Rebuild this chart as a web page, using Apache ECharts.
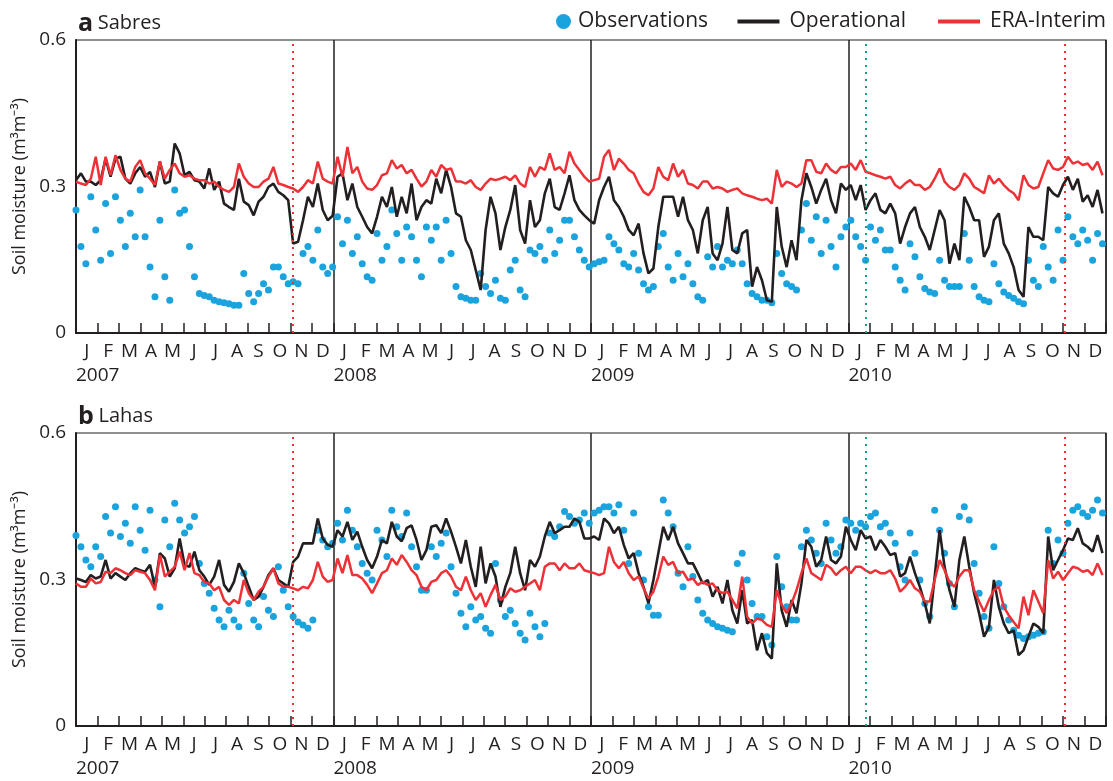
<!DOCTYPE html>
<html>
<head>
<meta charset="utf-8">
<script src="https://cdn.jsdelivr.net/npm/echarts@6/dist/echarts.min.js"></script>
<style>
html,body{margin:0;padding:0;background:#fff;}
#chart{width:1113px;height:781px;}
</style>
</head>
<body>
<div id="chart"></div>
<script>
// ---- data: weekly samples starting 1 Jan 2007 (day index = week * 7) ----
const monthLetters = ['J','F','M','A','M','J','J','A','S','O','N','D'];
const yearLabels = ['2007','2008','2009','2010'];
const yTicks = [0, 0.3, 0.6];
const dottedRed = [307, 1402];   // day index of red dotted markers
const dottedGreen = [1120];      // day index of green dotted marker

// Panel a: Sabres
const sabresObs = [
 0.252,0.177,0.142,0.279,0.211,0.149,0.265,0.163,0.279,0.231,0.177,0.245,0.197,0.293,0.197,0.135,0.074,0.231,0.115,0.067,0.293,0.245,0.252,0.177,0.115,0.081,0.077,0.074,0.067,0.064,0.062,0.06,0.057,0.057,0.122,0.081,0.064,0.081,0.101,0.088,0.135,0.135,0.115,0.101,0.105,0.101,0.163,0.177,0.149,0.211,0.135,0.122,
 0.135,0.238,0.183,0.231,0.163,0.197,0.142,0.115,0.108,0.204,0.149,0.177,0.252,0.204,0.149,0.217,0.197,0.149,0.115,
 0.217,0.19,0.217,0.149,0.231,0.163,0.095,0.074,0.071,0.067,0.067,0.122,0.095,0.081,0.108,0.071,0.067,0.129,0.149,0.088,0.074,0.17,0.163,0.177,0.149,0.211,0.163,0.19,0.231,0.231,0.197,0.17,0.149,0.135,0.142,0.146,0.149,0.197,0.183,0.17,0.142,0.135,0.163,0.129,0.101,0.088,0.095,0.177,0.204,0.135,0.108,0.163,0.115,0.142,0.101,0.074,0.067,0.156,0.135,0.177,0.135,0.149,0.142,0.17,0.142,0.101,0.081,0.074,0.067,
 0.067,0.062,0.163,0.122,0.101,0.095,0.088,0.211,0.265,0.19,0.238,0.163,0.231,0.177,0.135,0.197,0.217,0.231,0.197,0.177,0.149,0.217,0.19,0.211,0.17,0.17,0.135,0.108,0.088,0.183,0.156,0.115,0.091,0.084,0.081,0.149,0.108,0.095,0.095,0.095,0.204,0.149,0.095,0.074,0.067,0.064,0.142,0.101,0.084,0.077,0.071,0.064,0.06,0.149,0.108,0.095,0.177,0.135,0.108,0.211,0.149,0.238,0.197,0.183,0.211,0.19,0.149,0.204,0.183
];
const sabresOper = [
 0.313,0.327,0.31,0.31,0.303,0.313,0.357,0.32,0.357,0.361,0.316,0.306,0.327,0.34,0.32,0.33,0.299,0.351,0.306,0.31,0.388,0.368,0.323,0.33,0.313,0.31,0.296,0.337,0.293,0.31,0.265,0.258,0.252,0.316,0.269,0.262,0.241,0.269,0.279,0.299,0.306,0.289,0.282,0.272,0.183,0.187,0.231,0.279,0.258,0.306,0.252,0.231,
 0.24,0.32,0.327,0.272,0.306,0.258,0.238,0.217,0.204,0.238,0.279,0.258,0.299,0.238,0.279,0.245,0.306,0.231,0.258,
 0.272,0.265,0.316,0.286,0.334,0.299,0.245,0.238,0.19,0.17,0.129,0.088,0.211,0.279,0.245,0.17,0.217,0.252,0.303,0.211,0.183,0.272,0.217,0.231,0.286,0.316,0.258,0.252,0.286,0.323,0.272,0.252,0.241,0.231,0.224,0.272,0.299,0.32,0.272,0.258,0.238,0.211,0.2,0.224,0.163,0.122,0.132,0.217,0.279,0.279,0.279,0.238,0.279,0.231,0.211,0.163,0.231,0.258,0.163,0.149,0.183,0.258,0.17,0.163,0.204,0.211,0.095,0.135,0.108,
 0.067,0.064,0.258,0.177,0.135,0.19,0.149,0.272,0.327,0.299,0.265,0.293,0.316,0.272,0.245,0.306,0.293,0.303,0.272,0.303,0.252,0.272,0.286,0.252,0.245,0.265,0.245,0.183,0.217,0.245,0.258,0.217,0.197,0.17,0.211,0.252,0.231,0.142,0.183,0.149,0.279,0.258,0.231,0.231,0.156,0.177,0.231,0.245,0.183,0.163,0.135,0.088,0.074,0.217,0.197,0.197,0.19,0.299,0.286,0.279,0.303,0.32,0.293,0.316,0.269,0.282,0.258,0.293,0.245
];
const sabresEra = [
 0.31,0.306,0.303,0.316,0.361,0.303,0.361,0.323,0.364,0.334,0.316,0.31,0.34,0.354,0.327,0.316,0.303,0.351,0.316,0.334,0.347,0.327,0.32,0.323,0.316,0.313,0.313,0.306,0.31,0.299,0.293,0.289,0.299,0.347,0.32,0.306,0.299,0.299,0.31,0.316,0.34,0.306,0.303,0.299,0.296,0.289,0.299,0.313,0.306,0.351,0.316,0.31,
 0.306,0.361,0.32,0.381,0.327,0.34,0.31,0.296,0.293,0.303,0.323,0.327,0.354,0.337,0.344,0.327,0.334,0.316,0.3,
 0.31,0.334,0.32,0.344,0.334,0.337,0.31,0.31,0.306,0.313,0.299,0.293,0.306,0.316,0.313,0.316,0.32,0.313,0.323,0.306,0.299,0.34,0.32,0.34,0.334,0.368,0.334,0.34,0.327,0.371,0.347,0.334,0.32,0.31,0.313,0.316,0.361,0.375,0.334,0.357,0.347,0.334,0.327,0.306,0.289,0.282,0.296,0.34,0.32,0.313,0.347,0.32,0.334,0.306,0.303,0.296,0.31,0.31,0.296,0.299,0.296,0.289,0.293,0.296,0.286,0.282,0.279,0.275,0.272,
 0.275,0.265,0.334,0.299,0.31,0.306,0.299,0.306,0.354,0.354,0.33,0.327,0.347,0.334,0.327,0.34,0.34,0.347,0.334,0.354,0.33,0.327,0.323,0.32,0.316,0.32,0.303,0.296,0.306,0.313,0.303,0.303,0.293,0.299,0.316,0.337,0.31,0.299,0.293,0.303,0.327,0.316,0.299,0.293,0.286,0.323,0.306,0.316,0.303,0.293,0.286,0.272,0.323,0.303,0.296,0.299,0.327,0.354,0.337,0.334,0.34,0.361,0.347,0.351,0.344,0.347,0.334,0.351,0.323
];

// Panel b: Lahas
const lahasObs = [
 0.39,0.367,0.34,0.326,0.367,0.347,0.429,0.395,0.449,0.388,0.415,0.374,0.449,0.401,0.36,0.442,0.299,0.244,0.422,0.367,0.456,0.422,0.395,0.408,0.429,0.333,0.292,0.272,0.241,0.217,0.203,0.237,0.217,0.203,0.313,0.251,0.217,0.203,0.265,0.237,0.224,0.326,0.278,0.244,0.224,0.213,0.207,0.2,0.217,0.401,0.381,0.367,
 0.374,0.415,0.381,0.442,0.401,0.367,0.333,0.313,0.299,0.401,0.381,0.347,0.442,0.408,0.388,0.436,0.367,0.326,0.278,
 0.278,0.367,0.347,0.374,0.395,0.326,0.272,0.231,0.203,0.244,0.217,0.224,0.2,0.19,0.333,0.258,0.224,0.237,0.21,0.19,0.176,0.231,0.203,0.183,0.21,0.395,0.388,0.408,0.439,0.429,0.415,0.422,0.436,0.415,0.436,0.442,0.449,0.449,0.436,0.453,0.401,0.333,0.436,0.354,0.299,0.244,0.227,0.227,0.463,0.436,0.408,0.313,0.285,0.367,0.306,0.258,0.231,0.217,0.21,0.203,0.2,0.196,0.193,0.333,0.354,0.299,0.251,0.224,0.224,
 0.183,0.166,0.347,0.285,0.244,0.217,0.217,0.367,0.401,0.381,0.354,0.333,0.415,0.381,0.354,0.367,0.422,0.415,0.401,0.415,0.408,0.429,0.436,0.408,0.415,0.395,0.374,0.326,0.299,0.395,0.354,0.299,0.251,0.224,0.442,0.401,0.354,0.292,0.244,0.429,0.449,0.422,0.333,0.272,0.224,0.2,0.367,0.292,0.244,0.217,0.196,0.186,0.179,0.183,0.186,0.19,0.193,0.401,0.333,0.381,0.354,0.415,0.442,0.449,0.436,0.429,0.442,0.463,0.436
];
const lahasOper = [
 0.302,0.299,0.295,0.309,0.302,0.306,0.34,0.302,0.313,0.306,0.299,0.313,0.323,0.319,0.316,0.33,0.285,0.354,0.343,0.306,0.323,0.384,0.33,0.326,0.357,0.319,0.306,0.289,0.306,0.34,0.289,0.275,0.295,0.333,0.313,0.285,0.258,0.265,0.285,0.309,0.323,0.299,0.292,0.285,0.336,0.347,0.374,0.374,0.374,0.425,0.384,0.371,
 0.367,0.401,0.388,0.418,0.381,0.398,0.367,0.34,0.323,0.347,0.381,0.374,0.418,0.388,0.378,0.405,0.411,0.381,0.34,
 0.36,0.408,0.411,0.395,0.425,0.398,0.367,0.333,0.381,0.326,0.285,0.367,0.292,0.333,0.306,0.244,0.285,0.313,0.367,0.313,0.278,0.34,0.326,0.347,0.388,0.418,0.395,0.401,0.408,0.408,0.425,0.418,0.384,0.384,0.388,0.381,0.425,0.415,0.395,0.408,0.371,0.343,0.354,0.313,0.285,0.251,0.299,0.354,0.408,0.381,0.408,0.374,0.354,0.333,0.333,0.313,0.292,0.299,0.265,0.285,0.251,0.299,0.237,0.21,0.278,0.21,0.217,0.155,0.19,
 0.149,0.138,0.333,0.237,0.203,0.258,0.231,0.292,0.381,0.367,0.326,0.34,0.388,0.34,0.333,0.347,0.408,0.381,0.36,0.401,0.384,0.388,0.36,0.381,0.367,0.35,0.354,0.306,0.313,0.347,0.313,0.285,0.251,0.21,0.306,0.401,0.326,0.278,0.244,0.34,0.388,0.326,0.272,0.231,0.183,0.203,0.299,0.244,0.21,0.19,0.196,0.145,0.155,0.183,0.21,0.203,0.19,0.388,0.319,0.34,0.36,0.384,0.381,0.405,0.374,0.367,0.357,0.391,0.354
];
const lahasEra = [
 0.292,0.285,0.285,0.302,0.292,0.295,0.316,0.313,0.323,0.319,0.313,0.309,0.319,0.316,0.313,0.299,0.278,0.35,0.306,0.316,0.326,0.357,0.319,0.354,0.313,0.309,0.295,0.292,0.278,0.285,0.258,0.248,0.258,0.251,0.299,0.272,0.258,0.275,0.285,0.306,0.323,0.292,0.285,0.285,0.282,0.278,0.285,0.282,0.299,0.336,0.306,0.295,
 0.299,0.343,0.313,0.35,0.309,0.309,0.302,0.289,0.272,0.292,0.313,0.319,0.343,0.33,0.35,0.336,0.319,0.309,0.285,
 0.278,0.295,0.299,0.313,0.319,0.306,0.285,0.278,0.306,0.278,0.258,0.272,0.244,0.268,0.289,0.258,0.265,0.282,0.275,0.278,0.285,0.292,0.299,0.278,0.326,0.333,0.333,0.319,0.333,0.323,0.323,0.333,0.319,0.316,0.313,0.309,0.313,0.367,0.336,0.323,0.336,0.313,0.299,0.306,0.282,0.261,0.275,0.306,0.347,0.33,0.336,0.313,0.316,0.299,0.302,0.289,0.295,0.289,0.292,0.278,0.272,0.275,0.258,0.241,0.306,0.224,0.21,0.22,0.217,
 0.207,0.203,0.278,0.248,0.231,0.251,0.278,0.313,0.343,0.313,0.306,0.299,0.33,0.323,0.309,0.319,0.326,0.313,0.326,0.326,0.319,0.313,0.319,0.313,0.313,0.319,0.302,0.275,0.285,0.299,0.282,0.275,0.255,0.255,0.299,0.34,0.319,0.295,0.285,0.306,0.319,0.319,0.278,0.255,0.234,0.258,0.278,0.285,0.244,0.227,0.213,0.2,0.265,0.227,0.278,0.255,0.231,0.34,0.302,0.316,0.299,0.313,0.326,0.323,0.316,0.319,0.309,0.333,0.309
];

// ---- build chart ----
const DAYS_TOTAL = 1461;
const YEAR_LEN = 365.25;
const dayOf = i => i * 7;
const pairs = arr => arr.map((v, i) => [dayOf(i), v]);

const monthCats = [];
for (let y = 0; y < 4; y++) for (let m = 0; m < 12; m++) monthCats.push(monthLetters[m]);

const INK = '#231f20', BLUE = '#1aa3dd', RED = '#ee3136', GREEN = '#17a075';
const FONT = 'Open Sans';

const grids = [
  {left: 76, top: 40, width: 1030, height: 293},
  {left: 76, top: 433, width: 1030, height: 293}
];

const xAxes = [], yAxes = [], series = [];
const panels = [
  {obs: sabresObs, oper: sabresOper, era: sabresEra},
  {obs: lahasObs, oper: lahasOper, era: lahasEra}
];

panels.forEach((p, g) => {
  xAxes.push({gridIndex: g, type: 'value', min: 0, max: DAYS_TOTAL, show: false});
  xAxes.push({
    gridIndex: g, type: 'category', data: monthCats, boundaryGap: true, position: 'bottom',
    axisLine: {show: true, lineStyle: {color: INK, width: 2}},
    axisTick: {show: true, inside: true, length: 10, interval: 0, lineStyle: {color: INK, width: 1.5}},
    axisLabel: {interval: 0, margin: 9, color: INK, fontSize: 19, fontFamily: FONT},
    splitLine: {show: false}
  });
  xAxes.push({
    gridIndex: g, type: 'value', min: 0, max: DAYS_TOTAL, interval: YEAR_LEN, position: 'bottom',
    axisLine: {show: false}, axisTick: {show: false},
    axisLabel: {show: true, align: 'left', margin: 33, color: INK, fontSize: 19, fontFamily: FONT,
      showMaxLabel: false,
      formatter: v => yearLabels[Math.round(v / YEAR_LEN)] || ''},
    splitLine: {show: true, lineStyle: {color: INK, width: 1.5}}
  });
  yAxes.push({
    gridIndex: g, type: 'value', min: yTicks[0], max: yTicks[2], interval: yTicks[1] - yTicks[0],
    axisLine: {show: true, lineStyle: {color: INK, width: 2}},
    axisTick: {show: false},
    axisLabel: {margin: 10, color: INK, fontSize: 19, fontFamily: FONT,
      formatter: v => (v === 0 ? '0' : v.toFixed(1))},
    splitLine: {show: false},
    name: 'Soil moisture (m³m⁻³)', nameLocation: 'middle', nameGap: 42,
    nameTextStyle: {color: INK, fontSize: 18, fontFamily: FONT}
  });
  const xi = g * 3;
  const markers = {
    silent: true, symbol: 'none', animation: false,
    label: {show: false},
    data: [
      ...dottedRed.map(d => ({xAxis: d, lineStyle: {color: RED, type: [2, 5], width: 2}})),
      ...dottedGreen.map(d => ({xAxis: d, lineStyle: {color: GREEN, type: [2, 5], width: 2}}))
    ]
  };
  series.push({
    name: 'Observations', type: 'scatter', xAxisIndex: xi, yAxisIndex: g,
    data: pairs(p.obs), symbol: 'circle', symbolSize: 7,
    itemStyle: {color: BLUE, opacity: 1}, z: 2, animation: false, markLine: markers
  });
  series.push({
    name: 'Operational', type: 'line', xAxisIndex: xi, yAxisIndex: g,
    data: pairs(p.oper), symbol: 'none', showSymbol: false,
    lineStyle: {color: INK, width: 2.6}, itemStyle: {color: INK}, z: 3, animation: false
  });
  series.push({
    name: 'ERA-Interim', type: 'line', xAxisIndex: xi, yAxisIndex: g,
    data: pairs(p.era), symbol: 'none', showSymbol: false,
    lineStyle: {color: RED, width: 2.5}, itemStyle: {color: RED}, z: 4, animation: false
  });
});

const titleRich = {
  b: {fontSize: 25, fontWeight: 'bold', color: INK, fontFamily: FONT},
  n: {fontSize: 20, fontWeight: 'normal', color: INK, fontFamily: FONT}
};

const chart = echarts.init(document.getElementById('chart'), null, {renderer: 'canvas'});
chart.setOption({
  animation: false,
  backgroundColor: '#fff',
  textStyle: {fontFamily: FONT},
  title: [
    {text: '{b|a} {n|Sabres}', left: 73, top: 6, textStyle: {fontWeight: 'normal', rich: titleRich}},
    {text: '{b|b} {n|Lahas}', left: 73, top: 399, textStyle: {fontWeight: 'normal', rich: titleRich}}
  ],
  legend: [
    {data: [{name: 'Observations', icon: 'circle'}], left: 551, top: 6, itemWidth: 15, itemHeight: 15,
      textStyle: {color: INK, fontSize: 21, fontFamily: FONT, padding: [0, 0, 0, 2]}},
    {data: [{name: 'Operational', icon: 'rect'}, {name: 'ERA-Interim', icon: 'rect'}],
      right: 2, top: 6, itemWidth: 42, itemHeight: 4, itemGap: 32,
      textStyle: {color: INK, fontSize: 21, fontFamily: FONT, padding: [0, 0, 0, 5]}}
  ],
  grid: grids.map(g => Object.assign({show: true, borderColor: INK, borderWidth: 1.2, backgroundColor: 'transparent'}, g)),
  xAxis: xAxes,
  yAxis: yAxes,
  series: series
});
</script>
</body>
</html>
